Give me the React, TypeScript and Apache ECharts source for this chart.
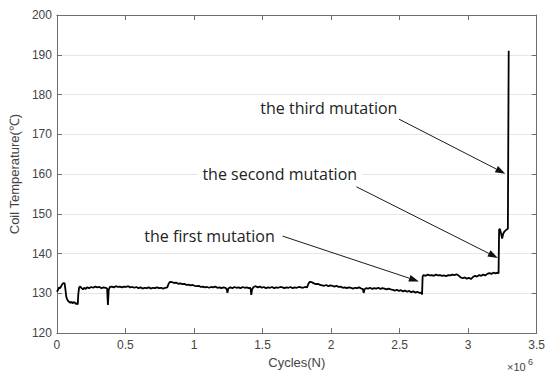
import React, { useEffect, useRef } from "react";
import * as echarts from "echarts";

// Cycles in units of 10^6
const cyclesM: number[] = [
  0.000, 0.008, 0.016, 0.024, 0.032, 0.040, 0.048, 0.056, 0.062, 0.068,
  0.074, 0.082, 0.090, 0.098, 0.106, 0.114, 0.122, 0.130, 0.138, 0.146,
  0.152, 0.156, 0.162, 0.170, 0.180, 0.190, 0.200, 0.210, 0.220, 0.235,
  0.250, 0.265, 0.280, 0.295, 0.310, 0.325, 0.340, 0.355, 0.366, 0.372,
  0.378, 0.386, 0.400, 0.415, 0.430, 0.445, 0.460, 0.475, 0.490, 0.505,
  0.520, 0.535, 0.550, 0.565, 0.580, 0.595, 0.610, 0.625, 0.640, 0.655,
  0.670, 0.685, 0.700, 0.715, 0.730, 0.745, 0.760, 0.775, 0.790, 0.805,
  0.815, 0.825, 0.840, 0.855, 0.870, 0.885, 0.900, 0.915, 0.930, 0.945,
  0.960, 0.975, 0.990, 1.005, 1.020, 1.035, 1.050, 1.065, 1.080, 1.095,
  1.110, 1.125, 1.140, 1.155, 1.170, 1.185, 1.200, 1.215, 1.230, 1.240,
  1.244, 1.250, 1.265, 1.280, 1.295, 1.310, 1.325, 1.340, 1.355, 1.370,
  1.385, 1.400, 1.412, 1.418, 1.424, 1.435, 1.450, 1.465, 1.480, 1.495,
  1.510, 1.525, 1.540, 1.555, 1.570, 1.585, 1.600, 1.615, 1.630, 1.645,
  1.660, 1.675, 1.690, 1.705, 1.720, 1.735, 1.750, 1.765, 1.780, 1.795,
  1.810, 1.825, 1.835, 1.845, 1.860, 1.875, 1.890, 1.905, 1.920, 1.935,
  1.950, 1.965, 1.980, 1.995, 2.010, 2.025, 2.040, 2.055, 2.070, 2.085,
  2.100, 2.115, 2.130, 2.145, 2.160, 2.175, 2.190, 2.205, 2.220, 2.232,
  2.238, 2.244, 2.255, 2.270, 2.285, 2.300, 2.315, 2.330, 2.345, 2.360,
  2.375, 2.390, 2.405, 2.420, 2.435, 2.450, 2.465, 2.480, 2.495, 2.510,
  2.525, 2.540, 2.555, 2.570, 2.585, 2.600, 2.615, 2.630, 2.645, 2.658,
  2.664, 2.668, 2.675, 2.690, 2.705, 2.720, 2.735, 2.750, 2.765, 2.780,
  2.795, 2.810, 2.825, 2.840, 2.855, 2.870, 2.885, 2.900, 2.915, 2.930,
  2.945, 2.960, 2.975, 2.990, 3.005, 3.020, 3.035, 3.050, 3.065, 3.080,
  3.095, 3.110, 3.125, 3.140, 3.155, 3.170, 3.185, 3.200, 3.215, 3.222,
  3.226, 3.232, 3.240, 3.248, 3.256, 3.266, 3.276, 3.284, 3.290, 3.296,
];

const coilTemp: number[] = [
  130.4, 130.9, 131.5, 131.3, 131.9, 132.3, 132.6, 132.5, 131.0, 129.2,
  128.5, 128.1, 127.8, 127.6, 127.9, 127.5, 127.8, 127.7, 127.3, 127.5,
  127.2, 129.8, 131.5, 131.7, 131.3, 131.0, 131.4, 131.1, 131.5, 131.3,
  131.6, 131.4, 131.7, 131.5, 131.6, 131.3, 131.5, 131.4, 131.2, 127.1,
  130.9, 131.6, 131.7, 131.5, 131.8, 131.6, 131.7, 131.5, 131.7, 131.6,
  131.8, 131.5, 131.6, 131.4, 131.6, 131.3, 131.5, 131.2, 131.4, 131.3,
  131.5, 131.2, 131.4, 131.3, 131.5, 131.3, 131.4, 131.2, 131.4, 131.5,
  132.4, 132.9, 132.8, 132.6, 132.7, 132.4, 132.5, 132.3, 132.4, 132.1,
  132.2, 132.0, 132.1, 131.9, 131.8, 131.9, 131.6, 131.7, 131.5, 131.6,
  131.4, 131.6, 131.5, 131.7, 131.4, 131.5, 131.3, 131.5, 131.4, 130.9,
  130.1, 131.2, 131.5, 131.3, 131.6, 131.4, 131.5, 131.3, 131.6, 131.4,
  131.5, 131.3, 131.4, 129.6, 131.0, 131.6, 131.8, 131.5, 131.7, 131.4,
  131.6, 131.3, 131.5, 131.4, 131.6, 131.3, 131.5, 131.4, 131.6, 131.5,
  131.3, 131.5, 131.4, 131.6, 131.3, 131.5, 131.4, 131.6, 131.5, 131.4,
  131.6, 131.5, 132.4, 132.9, 132.8, 132.5, 132.3, 132.4, 132.1, 132.0,
  131.9, 132.1, 131.8, 132.0, 131.9, 131.7, 131.9, 131.6, 131.7, 131.4,
  131.5, 131.3, 131.5, 131.4, 131.2, 131.4, 131.3, 131.5, 131.2, 131.1,
  130.1, 131.0, 131.3, 131.2, 131.4, 131.1, 131.3, 131.2, 131.4, 131.1,
  131.3, 131.2, 131.0, 131.2, 131.0, 130.9, 130.7, 130.9, 130.6, 130.8,
  130.5, 130.7, 130.4, 130.6, 130.3, 130.5, 130.2, 130.4, 130.1, 130.2,
  129.7, 134.2, 134.6, 134.4, 134.7, 134.5, 134.6, 134.4, 134.7, 134.5,
  134.6, 134.4, 134.5, 134.3, 134.6, 134.5, 134.7, 134.6, 134.8, 134.5,
  134.0, 133.8, 134.0, 133.7, 133.9, 133.6, 134.1, 134.4, 134.2, 134.6,
  134.4, 134.7, 134.5, 134.9, 135.1, 134.9, 135.2, 135.0, 135.2, 135.0,
  146.0, 146.2, 145.1, 143.8, 145.0, 145.6, 145.9, 146.1, 146.3, 191.0,
];

const xTicks = { min: 0, max: 3.5, interval: 0.5 };
const yTicks = { min: 120, max: 200, interval: 10 };

// Annotations in data coordinates (x in 10^6 cycles, y in °C)
const annTexts: string[] = ["the third mutation", "the second mutation", "the first mutation"];
const annTextRight: [number, number][] = [[2.484, 176.5], [2.190, 160.0], [1.589, 144.4]];
const annArrowFrom: [number, number][] = [[2.496, 173.8], [2.185, 156.8], [1.646, 144.4]];
const annArrowTo: [number, number][] = [[3.271, 160.1], [3.217, 138.9], [2.641, 133.0]];

const axisColor = "#6e6e6e";
const labelColor = "#444";
const tickFont = "'Liberation Sans', Arial, sans-serif";

export default function App() {
  const ref = useRef<HTMLDivElement>(null);

  useEffect(() => {
    if (!ref.current) return;
    const chart = echarts.init(ref.current, null, { renderer: "svg", width: 548, height: 374 });
    const data = cyclesM.map((c, i) => [c, coilTemp[i]]);

    const commonX = {
      type: "value" as const,
      min: xTicks.min,
      max: xTicks.max,
      interval: xTicks.interval,
      axisLine: { show: true, onZero: false, lineStyle: { color: axisColor, width: 1 } },
      axisTick: { show: true, inside: true, length: 5, lineStyle: { color: axisColor } },
      splitLine: { show: false },
    };
    const commonY = {
      type: "value" as const,
      min: yTicks.min,
      max: yTicks.max,
      interval: yTicks.interval,
      axisLine: { show: true, onZero: false, lineStyle: { color: axisColor, width: 1 } },
      axisTick: { show: true, inside: true, length: 5, lineStyle: { color: axisColor } },
    };

    chart.setOption({
      animation: false,
      backgroundColor: "#fff",
      grid: { left: 53, right: 6, top: 15, bottom: 35, containLabel: false },
      xAxis: [
        {
          ...commonX,
          position: "bottom",
          name: "Cycles(N)",
          nameLocation: "middle",
          nameGap: 20,
          nameTextStyle: { color: labelColor, fontSize: 13, fontFamily: tickFont },
          axisLabel: { color: labelColor, fontSize: 12, fontFamily: tickFont, margin: 6 },
        },
        { ...commonX, position: "top", axisLabel: { show: false } },
      ],
      yAxis: [
        {
          ...commonY,
          position: "left",
          name: "Coil Temperature(℃)",
          nameLocation: "middle",
          nameGap: 32,
          nameTextStyle: { color: labelColor, fontSize: 13, fontFamily: tickFont },
          axisLabel: { color: labelColor, fontSize: 12, fontFamily: tickFont, margin: 5 },
          splitLine: { show: true, lineStyle: { color: "#e6e6e6", width: 1 } },
        },
        { ...commonY, position: "right", axisLabel: { show: false }, splitLine: { show: false } },
      ],
      series: [
        {
          type: "line",
          xAxisIndex: 0,
          yAxisIndex: 0,
          data,
          showSymbol: false,
          symbol: "none",
          lineStyle: { color: "#000", width: 1.8 },
          z: 3,
        },
      ],
    });

    const toPx = (pt: [number, number]) =>
      chart.convertToPixel({ xAxisIndex: 0, yAxisIndex: 0 }, pt) as number[];

    const elements: any[] = [];
    const pad = 5;
    annTexts.forEach((t, i) => {
      const r = toPx(annTextRight[i]);
      elements.push({
        type: "text",
        x: r[0] + pad,
        y: r[1],
        z: 20,
        style: {
          text: t,
          fill: "#222",
          font: "16px 'Open Sans', 'Noto Sans', sans-serif",
          align: "right",
          verticalAlign: "middle",
          backgroundColor: "#fff",
          padding: [1, pad, 1, pad],
        },
      });
      const a = toPx(annArrowFrom[i]);
      const b = toPx(annArrowTo[i]);
      const dx = b[0] - a[0];
      const dy = b[1] - a[1];
      const len = Math.sqrt(dx * dx + dy * dy);
      const ux = dx / len;
      const uy = dy / len;
      const headLen = 10;
      const headHalf = 3.5;
      const bx = b[0] - ux * headLen;
      const by = b[1] - uy * headLen;
      elements.push({
        type: "line",
        z: 21,
        shape: { x1: a[0], y1: a[1], x2: bx, y2: by },
        style: { stroke: "#1a1a1a", lineWidth: 1 },
      });
      elements.push({
        type: "polygon",
        z: 21,
        shape: {
          points: [
            [b[0], b[1]],
            [bx - uy * headHalf, by + ux * headHalf],
            [bx + uy * headHalf, by - ux * headHalf],
          ],
        },
        style: { fill: "#111" },
      });
    });

    elements.push({
      type: "text",
      x: 507,
      y: 367,
      z: 20,
      style: { text: "×10", fill: labelColor, font: `11px ${tickFont}`, align: "left", verticalAlign: "middle" },
    });
    elements.push({
      type: "text",
      x: 528,
      y: 362,
      z: 20,
      style: { text: "6", fill: labelColor, font: `9px ${tickFont}`, align: "left", verticalAlign: "middle" },
    });

    chart.setOption({ graphic: { elements } });

    return () => chart.dispose();
  }, []);

  return (
    <div
      ref={ref}
      style={{ position: "fixed", left: 0, top: 0, width: 548, height: 374, background: "#fff" }}
    />
  );
}
